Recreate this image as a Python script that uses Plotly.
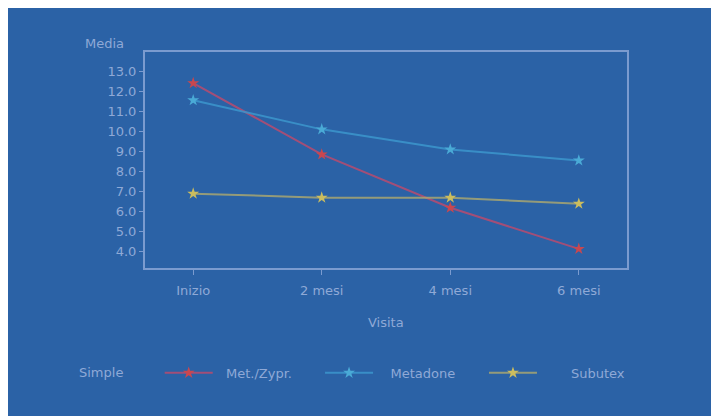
import plotly.graph_objects as go

visite = ['Inizio', '2 mesi', '4 mesi', '6 mesi']
met_zypr = [12.4, 8.85, 6.2, 4.15]
metadone = [11.55, 10.1, 9.1, 8.55]
subutex = [6.9, 6.7, 6.7, 6.4]

bg = '#2b62a6'
txt = '#8fa9d6'
axc = '#7b9bcf'

fig = go.Figure()

# name, values, line colour, marker colour, legend, legend x, text gap (nbsp)
series = [
    ('Met./Zypr.', met_zypr, 'rgba(185,75,110,0.85)', '#c9474f', 'legend', 0.211, 2),
    ('Metadone', metadone, 'rgba(60,150,205,0.85)', '#4aaad6', 'legend2', 0.434, 3),
    ('Subutex', subutex, 'rgba(175,170,110,0.8)', '#cbbd5e', 'legend3', 0.662, 7),
]
legends = {}
for name, vals, lc, mc, lg, lx, gap in series:
    fig.add_trace(go.Scatter(
        x=visite, y=vals, name='\u00a0' * gap + name, mode='lines+markers',
        line=dict(color=lc, width=2),
        marker=dict(symbol='star', size=9, color=mc),
        legend=lg, showlegend=True,
        hovertemplate=name + ': %{y}<extra></extra>'
    ))
    legends[lg] = dict(
        orientation='h', xref='container', yref='container',
        x=lx, y=0.123, xanchor='left', yanchor='middle',
        font=dict(color=txt, size=13), itemwidth=48,
        bgcolor='rgba(0,0,0,0)', visible=True,
    )

fig.update_layout(
    width=719, height=416, showlegend=True,
    paper_bgcolor=bg, plot_bgcolor=bg,
    margin=dict(l=137, r=100, t=44, b=156),
    font=dict(family='DejaVu Sans', size=13, color=txt),
    xaxis=dict(
        range=[-0.375, 3.375], showgrid=False, zeroline=False,
        showline=True, linecolor=axc, linewidth=2, mirror=True,
        ticks='outside', ticklen=5, tickcolor=axc,
        ticklabelstandoff=4,
    ),
    yaxis=dict(
        range=[3.2, 13.95], dtick=1, tickformat='.1f',
        showgrid=False, zeroline=False,
        showline=True, linecolor=axc, linewidth=2, mirror=True,
        ticks='outside', ticklen=4, tickcolor=axc,
    ),
    annotations=[
        dict(text='Media', xref='paper', yref='paper', x=-0.083, y=1.04,
             xanchor='center', yanchor='middle', showarrow=False,
             font=dict(color=txt, size=13)),
        dict(text='Visita', xref='paper', yref='paper', x=0.5, y=-0.25,
             xanchor='center', yanchor='middle', showarrow=False,
             font=dict(color=txt, size=13)),
        dict(text='Simple', xref='paper', yref='paper', x=-0.091, y=-0.486,
             xanchor='center', yanchor='middle', showarrow=False,
             font=dict(color=txt, size=13)),
    ],
    **legends
)

fig.write_html("out.html")
